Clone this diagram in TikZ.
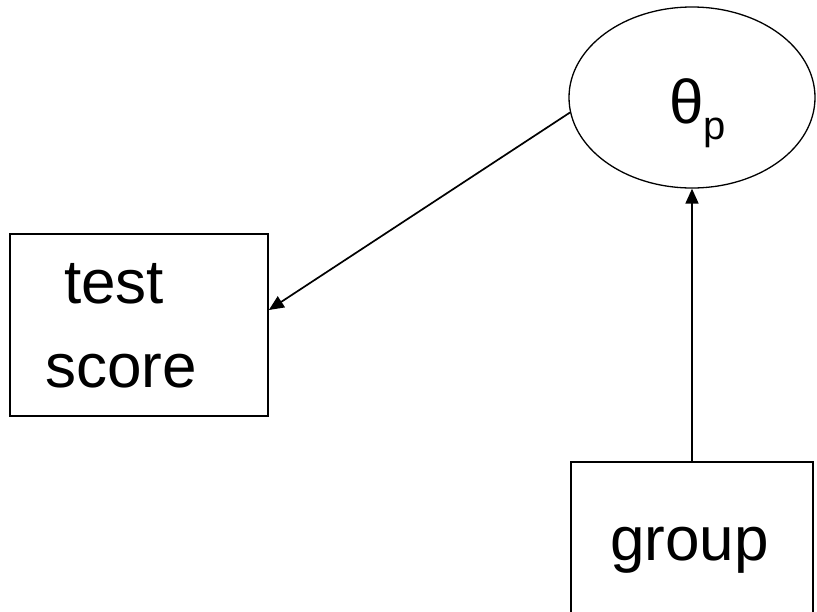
\documentclass[tikz,border=0pt]{standalone}
\usepackage{fontspec}
\setmainfont{Liberation Sans}
\usetikzlibrary{arrows.meta,shapes.geometric}

\tikzset{
  box/.style={draw=black, line width=1.7pt, rectangle, inner sep=0pt, fill=white},
  latent/.style={draw=black, line width=1.3pt, ellipse, inner sep=0pt, fill=white},
  label/.style={inner sep=0pt, anchor=base west, font=\fontsize{62}{70}\selectfont},
  link/.style={line width=1.7pt, -{Triangle[length=15pt,width=13pt]}}
}

\begin{document}
\begin{tikzpicture}[x=1pt, y=-1pt]
  \useasboundingbox (0,0) rectangle (817,611);
  \clip (0,0) rectangle (817,611);
  \fill[white] (0,0) rectangle (817,611);

  % latent variable
  \node[latent, minimum width=246pt, minimum height=181pt] (theta) at (692,97.5) {};
  \node[label] (thetatxt) at (669,123) {θ\raisebox{-16pt}{\fontsize{40}{40}\selectfont p}};

  % observed outcome
  \node[box, minimum width=258pt, minimum height=182pt] (test) at (139,325) {};
  \node[label] (testtxt) at (64,303) {test};
  \node[label] (scoretxt) at (45,387) {score};

  % grouping variable (box runs past the lower edge)
  \node[box, minimum width=242pt, minimum height=300pt] (group) at (692,612) {};
  \node[label] (grouptxt) at (610,560) {group};

  % paths
  \draw[link] (theta.187) -- ([yshift=15pt]test.east);
  \draw[link] (group.north) -- (theta.south);
\end{tikzpicture}
\end{document}
